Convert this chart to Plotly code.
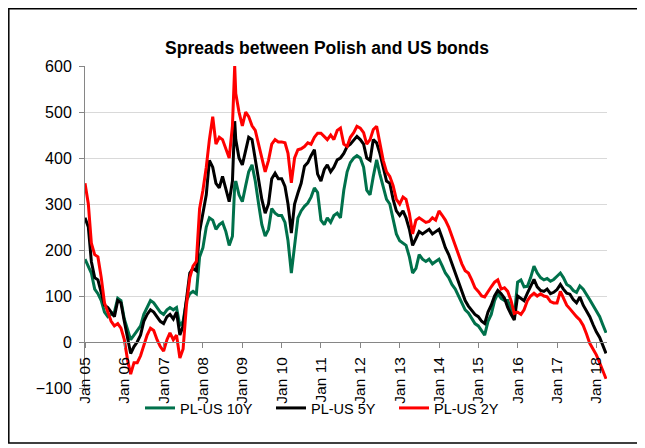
import pandas as pd
import plotly.graph_objects as go

# Monthly observations (first of month) Jan 2005 - Apr 2018, plus the Oct-2008 spike
dates = [d.strftime("%Y-%m-%d") for d in pd.date_range("2005-01-01", "2018-04-01", freq="MS")]
dates.insert(46, "2008-10-22")

pl_us_2y = [
    345, 300, 215, 190, 185, 140, 85, 65, 45, 35, 40, 30,            # 2005
    5, -40, -70, -45, -45, -30, -5, 15, 30, 25, 5, -10,              # 2006
    -20, 5, 20, 5, 15, -35, -15, 80, 140, 165, 175, 290,             # 2007
    330, 380, 440, 490, 430, 445, 440, 420, 400, 470, 600, 540, 500, # 2008 (+spike)
    470, 500, 490, 470, 460, 430, 400, 370, 395, 430, 440, 435,      # 2009
    435, 433, 410, 346, 400, 418, 420, 425, 433, 430, 445, 454,      # 2010
    454, 447, 440, 450, 440, 460, 465, 430, 425, 445, 455, 469,      # 2011
    465, 455, 430, 440, 462, 469, 435, 395, 370, 360, 340, 310,      # 2012
    300, 315, 310, 280, 235, 265, 270, 265, 260, 262, 270, 265,      # 2013
    285, 275, 265, 250, 230, 210, 190, 170, 155, 150, 135, 118,      # 2014
    110, 100, 98, 110, 120, 130, 135, 115, 118, 110, 90, 62,         # 2015
    65, 60, 70, 90, 100, 106, 100, 105, 100, 98, 88, 85,             # 2016
    85, 110, 95, 80, 72, 62, 55, 48, 36, 18, -3, -15,                # 2017
    -28, -45, -62, -80,                                              # 2018
]

pl_us_5y = [
    270, 250, 175, 140, 135, 110, 80, 75, 65, 55, 90, 85,
    45, 5, -25, -10, 0, 15, 45, 60, 70, 65, 55, 45,
    40, 55, 60, 50, 65, 15, 35, 90, 150, 160, 155, 240,
    280, 320, 395, 380, 345, 335, 360, 330, 305, 350, 480, 440, 400,
    385, 420, 445, 440, 400, 350, 310, 280, 300, 355, 367, 355,
    355, 338, 300, 237, 300, 324, 345, 382, 390, 405, 418, 365,
    350, 375, 385, 370, 380, 396, 400, 410, 425, 430, 440, 447,
    440, 430, 400, 395, 440, 433, 410, 380, 350, 345, 310, 285,
    275, 285, 270, 245, 210, 225, 240, 235, 240, 245, 235, 240,
    245, 225, 205, 190, 170, 150, 130, 110, 90, 78, 68, 60,
    55, 45, 40, 65, 80, 100, 112, 105, 95, 75, 60, 48,
    100, 95, 90, 106, 120, 136, 120, 112, 110, 115, 105, 108,
    114, 125, 115, 106, 104, 92, 85, 98, 80, 68, 55, 38,
    22, 10, -5, -25,
]

pl_us_10y = [
    180, 165, 150, 115, 105, 90, 65, 55, 60, 65, 95, 90,
    50, 25, 5, 15, 25, 35, 60, 75, 90, 85, 75, 65,
    60, 70, 75, 70, 75, 35, 45, 90, 105, 110, 105, 185,
    205, 250, 270, 265, 245, 255, 260, 240, 210, 230, 340, 350, 320,
    305, 340, 370, 385, 350, 300, 255, 230, 245, 290, 280, 275,
    275, 260, 220, 150, 210, 270, 285, 295, 302, 315, 335, 325,
    265, 255, 270, 260, 275, 280, 270, 330, 370, 390, 400, 405,
    400, 380, 330, 320, 360, 396, 365, 335, 310, 300, 270, 235,
    220, 215, 210, 185, 150, 160, 190, 180, 175, 180, 170, 175,
    180, 165, 150, 140, 125, 115, 100, 85, 70, 63, 50, 40,
    35, 25, 15, 45, 60, 90, 105, 95, 90, 90, 70, 55,
    130, 135, 120, 121, 140, 165, 150, 140, 135, 138, 132, 136,
    143, 150, 140, 125, 121, 112, 108, 122, 115, 105, 92, 80,
    68, 55, 38, 20,
]

series_names = ["PL-US 10Y", "PL-US 5Y", "PL-US 2Y"]
series_colors = ["#00714B", "#000000", "#FF0000"]
series_values = [pl_us_10y, pl_us_5y, pl_us_2y]
legend_widths = [86, 78, 70]

FONT = "Arial, Liberation Sans, sans-serif"

# the page body has an 8px margin; work in page pixels and convert
OFF = 8
W, H = 645 - OFF, 448 - OFF
PL, PR, PT, PB = 85, 607, 66, 388          # plot area in page pixels
L, R, T, B = PL - OFF, W - (PR - OFF), PT - OFF, H - (PB - OFF)
pw, ph = W - L - R, H - T - B


def px_x(p):
    return (p - OFF - L) / pw


def px_y(p):
    return (H - B - (p - OFF)) / ph


fig = go.Figure()
for name, color, vals, lw in zip(series_names, series_colors, series_values, legend_widths):
    fig.add_trace(go.Scatter(x=dates, y=vals, mode="lines", name=name, legendwidth=lw,
                             line=dict(color=color, width=3)))

fig.update_layout(
    width=W, height=H,
    margin=dict(l=L, r=R, t=T, b=B, pad=0, autoexpand=False),
    paper_bgcolor="white", plot_bgcolor="white",
    title=dict(text="<b>Spreads between Polish and US bonds</b>",
               x=(327 - OFF) / W, xanchor="center", xref="container",
               y=1 - (48 - OFF) / H, yanchor="middle", yref="container",
               font=dict(family=FONT, size=17.5, color="black")),
    showlegend=True,
    legend=dict(orientation="h", x=px_x(140), y=px_y(408), xanchor="left", yanchor="middle",
                font=dict(family=FONT, size=14.5, color="black"),
                bgcolor="rgba(0,0,0,0)", itemwidth=30),
    xaxis=dict(type="date", range=["2005-01-01", "2018-04-10"],
               dtick="M12", tick0="2005-01-01", tickformat="%b %y", tickangle=-90,
               anchor="free", position=100 / 700, automargin=False,
               showline=True, linecolor="#868686", linewidth=1,
               ticks="outside", ticklen=5, tickcolor="#868686",
               showgrid=False, zeroline=False, ticklabelstandoff=3,
               tickfont=dict(family=FONT, size=15.5, color="black")),
    yaxis=dict(range=[-100, 600], dtick=100, tick0=0, automargin=False,
               showline=True, linecolor="#868686", linewidth=1,
               ticks="outside", ticklen=5, tickcolor="#868686", ticklabelstandoff=4,
               showgrid=True, gridcolor="#D9D9D9", gridwidth=1, zeroline=False,
               tickfont=dict(family=FONT, size=16, color="black")),
    shapes=[dict(type="rect", xref="paper", yref="paper",
                 x0=px_x(OFF + 0.8), x1=px_x(638), y0=px_y(443), y1=px_y(OFF + 0.8),
                 line=dict(color="black", width=1.5), fillcolor="rgba(0,0,0,0)", layer="below")],
)

fig.write_html("out.html")
